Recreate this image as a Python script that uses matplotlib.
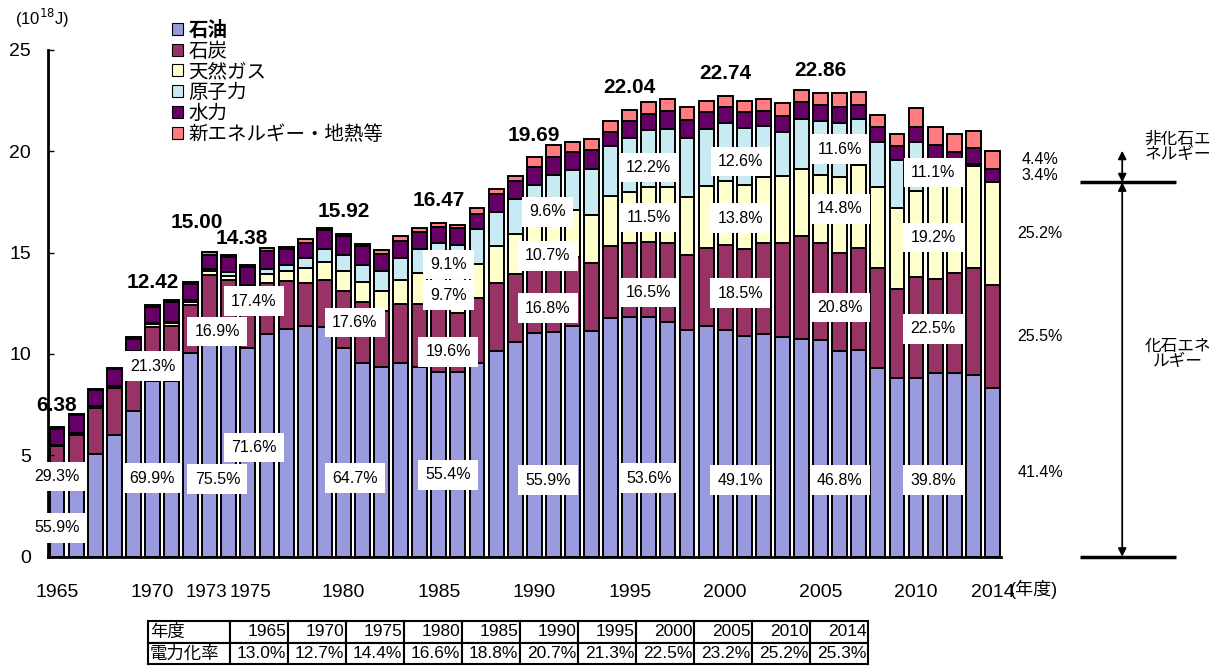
import numpy as np
import matplotlib
matplotlib.use('Agg')
import matplotlib.pyplot as plt
from matplotlib.patches import Patch

plt.rcParams['font.family'] = ['Liberation Sans Narrow', 'Liberation Sans', 'Noto Sans CJK JP', 'DejaVu Sans']

# ---- data (10^18 J) ----
years = list(range(1965, 2015))
oil = [3.57, 4.10, 5.07, 5.98, 7.18, 8.68, 8.66, 10.06, 11.33, 11.00,
       10.30, 10.96, 11.24, 11.37, 11.31, 10.30, 9.57, 9.33, 9.57, 9.33,
       9.12, 9.10, 9.54, 10.15, 10.59, 11.01, 11.09, 11.40, 11.14, 11.75,
       11.81, 11.80, 11.55, 11.20, 11.36, 11.17, 10.86, 10.98, 10.81, 10.75,
       10.70, 10.16, 10.19, 9.29, 8.80, 8.80, 9.04, 9.07, 8.96, 8.30]
coal = [1.87, 1.90, 2.27, 2.35, 2.85, 2.65, 2.71, 2.34, 2.54, 2.65,
        2.50, 2.52, 2.36, 2.11, 2.35, 2.80, 3.00, 2.80, 2.89, 3.13,
        3.23, 2.94, 3.20, 3.35, 3.37, 3.31, 3.40, 3.40, 3.35, 3.56,
        3.64, 3.71, 3.93, 3.66, 3.86, 4.21, 4.32, 4.50, 4.67, 5.05,
        4.75, 4.80, 5.02, 4.93, 4.39, 4.97, 4.64, 4.93, 5.26, 5.11]
gas = [0.08, 0.08, 0.10, 0.10, 0.10, 0.15, 0.15, 0.15, 0.20, 0.20,
       0.36, 0.44, 0.49, 0.77, 0.86, 1.00, 0.99, 0.99, 1.20, 1.54,
       1.60, 1.76, 1.70, 1.82, 1.93, 2.11, 2.30, 2.30, 2.34, 2.48,
       2.53, 2.72, 2.76, 2.89, 3.07, 3.14, 3.17, 3.25, 3.30, 3.33,
       3.38, 3.78, 4.10, 4.02, 3.99, 4.25, 5.00, 5.10, 5.04, 5.05]
nuclear = [0.00, 0.00, 0.00, 0.00, 0.01, 0.05, 0.06, 0.10, 0.13, 0.20,
           0.25, 0.25, 0.28, 0.50, 0.63, 0.78, 0.83, 0.99, 1.06, 1.18,
           1.50, 1.55, 1.73, 1.66, 1.74, 1.89, 2.03, 1.97, 2.31, 2.48,
           2.69, 2.80, 2.85, 2.92, 2.80, 2.87, 2.77, 2.52, 2.14, 2.44,
           2.65, 2.63, 2.26, 2.22, 2.38, 2.45, 0.92, 0.22, 0.10, 0.00]
hydro = [0.80, 0.90, 0.78, 0.82, 0.60, 0.78, 0.96, 0.80, 0.70, 0.72,
         0.87, 0.90, 0.79, 0.74, 0.94, 0.92, 0.93, 0.83, 0.87, 0.83,
         0.82, 0.87, 0.75, 0.89, 0.88, 0.92, 0.91, 0.87, 0.90, 0.69,
         0.82, 0.78, 0.89, 0.87, 0.83, 0.80, 0.83, 0.73, 0.83, 0.86,
         0.78, 0.79, 0.70, 0.74, 0.69, 0.74, 0.70, 0.65, 0.78, 0.68]
new_energy = [0.06, 0.06, 0.06, 0.07, 0.07, 0.11, 0.10, 0.10, 0.10, 0.09,
              0.10, 0.17, 0.13, 0.16, 0.11, 0.12, 0.11, 0.16, 0.22, 0.21,
              0.20, 0.15, 0.28, 0.28, 0.27, 0.45, 0.57, 0.49, 0.55, 0.53,
              0.55, 0.59, 0.59, 0.61, 0.56, 0.55, 0.53, 0.59, 0.61, 0.57,
              0.60, 0.72, 0.66, 0.58, 0.59, 0.90, 0.90, 0.87, 0.86, 0.88]

names = ['石油', '石炭', '天然ガス', '原子力', '水力', '新エネルギー・地熱等']
colors = ['#9999DD', '#993366', '#FFFFCC', '#C8EAF2', '#660066', '#FF7C80']

# labelled totals
total_years = [1965, 1970, 1973, 1975, 1980, 1985, 1990, 1995, 2000, 2005]
total_text = ['6.38', '12.42', '15.00', '14.38', '15.92', '16.47', '19.69', '22.04', '22.74', '22.86']

# share labels: (year position, height, text)
share_labels = [
    (1965, 3.95, '29.3%'), (1965, 1.42, '55.9%'),
    (1970, 9.4, '21.3%'), (1970, 3.88, '69.9%'),
    (1973.4, 11.1, '16.9%'), (1973.4, 3.83, '75.5%'),
    (1975.3, 12.6, '17.4%'), (1975.3, 5.4, '71.6%'),
    (1980.6, 11.56, '17.6%'), (1980.6, 3.88, '64.7%'),
    (1985.5, 14.42, '9.1%'), (1985.5, 12.9, '9.7%'), (1985.5, 10.1, '19.6%'), (1985.5, 4.03, '55.4%'),
    (1990.7, 17.0, '9.6%'), (1990.7, 14.83, '10.7%'), (1990.7, 12.26, '16.8%'), (1990.7, 3.78, '55.9%'),
    (1996, 19.19, '12.2%'), (1996, 16.73, '11.5%'), (1996, 13.03, '16.5%'), (1996, 3.88, '53.6%'),
    (2000.8, 19.5, '12.6%'), (2000.8, 16.7, '13.8%'), (2000.8, 13.0, '18.5%'), (2000.8, 3.78, '49.1%'),
    (2006, 20.1, '11.6%'), (2006, 17.15, '14.8%'), (2006, 12.29, '20.8%'), (2006, 3.78, '46.8%'),
    (2010.9, 18.94, '11.1%'), (2010.9, 15.74, '19.2%'), (2010.9, 11.23, '22.5%'), (2010.9, 3.78, '39.8%'),
]
# 2014 shares, shown right of the bars
share_2014 = ['41.4%', '25.5%', '25.2%', '', '3.4%', '4.4%']

table_years = ['1965', '1970', '1975', '1980', '1985', '1990', '1995', '2000', '2005', '2010', '2014']
elec_rate = ['13.0%', '12.7%', '14.4%', '16.6%', '18.8%', '20.7%', '21.3%', '22.5%', '23.2%', '25.2%', '25.3%']

# ---- figure ----
fig = plt.figure(figsize=(12.25, 6.66), dpi=100)
ax = fig.add_axes([47.7 / 1225, 1 - 556.7 / 666, (1001 - 47.7) / 1225, (556.7 - 49.7) / 666])

series = [oil, coal, gas, nuclear, hydro, new_energy]
bottom = np.zeros(len(years))
for vals, name, col in zip(series, names, colors):
    ax.bar(years, vals, width=0.78, bottom=bottom, color=col, edgecolor='black',
           linewidth=1.4, label=name)
    bottom += np.array(vals)
totals = bottom

ax.set_xlim(1964.51, 2014.45)
ax.set_ylim(0, 25)
ax.set_yticks([0, 5, 10, 15, 20, 25])
ax.tick_params(axis='y', direction='in', length=4, width=1, labelsize=14, pad=12)
# 1973 / 1975 sit very close, nudge them apart a little
ax.set_xticks([1965, 1970, 1972.85, 1975.15, 1980, 1985, 1990, 1995, 2000, 2005, 2010, 2014])
ax.set_xticklabels(['1965', '1970', '1973', '1975', '1980', '1985', '1990', '1995',
                    '2000', '2005', '2010', '2014'])
ax.tick_params(axis='x', length=0, labelsize=14, pad=20)
for lbl in ax.get_xticklabels()[2:4]:
    lbl.set_fontsize(13.5)
for s in ['top', 'right']:
    ax.spines[s].set_visible(False)
ax.spines['left'].set_linewidth(2)
ax.spines['bottom'].set_linewidth(2)

ax.text(2014.9, -1.6, '(年度)', fontsize=13, ha='left', va='center', clip_on=False)
fig.text(15 / 1225, 1 - 18 / 666, '(10$^{18}$J)', fontsize=12, ha='left', va='center')

# totals
y_off = {1973: 1.5, 1975: 1.3}
x_off = {1973: -0.7, 1975: -0.3}
for yr, txt in zip(total_years, total_text):
    i = years.index(yr)
    ax.text(yr + x_off.get(yr, 0), totals[i] + y_off.get(yr, 1.1), txt, fontsize=15,
            fontweight='bold', ha='center', va='center')

# shares in white boxes
for xp, yp, txt in share_labels:
    ax.text(xp, yp, txt, fontsize=11.5, ha='center', va='center', zorder=5,
            bbox=dict(boxstyle='square,pad=0.45', facecolor='white', edgecolor='none'))

# 2014 shares on the right
cum = 0
for vals, txt in zip(series, share_2014):
    v = vals[-1]
    if txt:
        ax.text(2016.5, cum + v / 2, txt, fontsize=11.5, ha='center', va='center', clip_on=False)
    cum += v
fossil = oil[-1] + coal[-1] + gas[-1]
top_2014 = totals[-1]

# fossil / non-fossil brackets
for yv in [0, fossil]:
    ax.plot([2018.6, 2023.6], [yv, yv], color='black', lw=2.5, clip_on=False,
            solid_capstyle='butt')
arrow_kw = dict(arrowstyle='<|-|>', color='black', lw=1.3, mutation_scale=12,
                shrinkA=0, shrinkB=0)
ax.annotate('', xy=(2020.8, top_2014), xytext=(2020.8, fossil), arrowprops=arrow_kw,
            annotation_clip=False)
ax.annotate('', xy=(2020.8, fossil), xytext=(2020.8, 0), arrowprops=arrow_kw,
            annotation_clip=False)
ax.text(2023.7, 20.2, '非化石エ\nネルギー', fontsize=12, ha='center', va='center',
        linespacing=1.0, clip_on=False)
ax.text(2023.7, 10.0, '化石エネ\nルギー', fontsize=12, ha='center', va='center',
        linespacing=1.0, clip_on=False)

# legend
handles = [Patch(facecolor=c, edgecolor='black', linewidth=0.8) for c in colors]
leg = fig.legend(handles, names, loc='upper left', bbox_to_anchor=(172 / 1225, 1 - 21 / 666),
                 frameon=False, fontsize=14, handlelength=0.55, handleheight=0.55,
                 handletextpad=0.3, labelspacing=0.13, borderpad=0, borderaxespad=0)
leg.get_texts()[0].set_fontweight('bold')

# electrification table
tab_ax = fig.add_axes([148 / 1225, 2 / 666, 720 / 1225, 43 / 666])
tab_ax.axis('off')
cell_text = [['年度'] + table_years, ['電力化率'] + elec_rate]
widths = [82] + [58] * len(table_years)
tbl = tab_ax.table(cellText=cell_text, cellLoc='right', bbox=[0, 0, 1, 1],
                   colWidths=[w / sum(widths) for w in widths])
tbl.auto_set_font_size(False)
tbl.set_fontsize(12.5)
for (r, c), cell in tbl.get_celld().items():
    cell.set_linewidth(1.5)
    cell.PAD = 0.03
    if c == 0:
        cell.get_text().set_horizontalalignment('left')
        cell._loc = 'left'
        cell.PAD = 0.02

fig.savefig('out.png', dpi=100)
